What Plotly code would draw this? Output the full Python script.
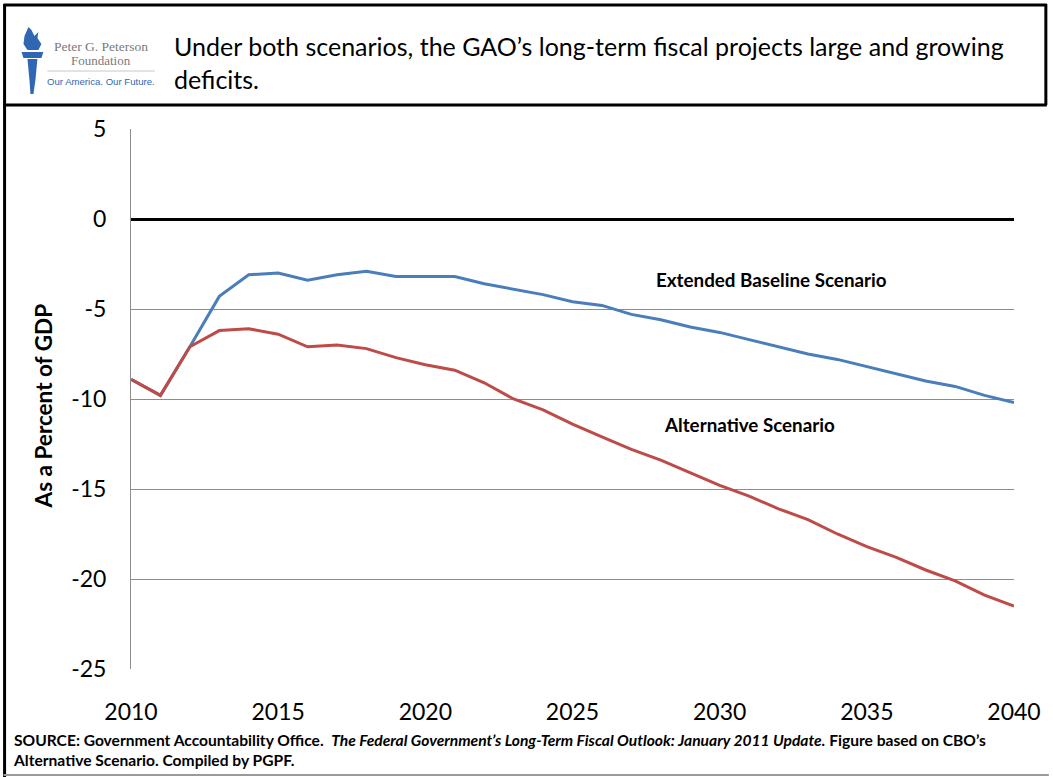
import plotly.graph_objects as go

# ---- data ----
years = list(range(2010, 2041))
extended_baseline = [-8.9, -9.8, -7.1, -4.3, -3.1, -3.0, -3.4, -3.1, -2.9, -3.2,
                     -3.2, -3.2, -3.6, -3.9, -4.2, -4.6, -4.8, -5.3, -5.6, -6.0,
                     -6.3, -6.7, -7.1, -7.5, -7.8, -8.2, -8.6, -9.0, -9.3, -9.8, -10.2]
alternative = [-8.9, -9.8, -7.1, -6.2, -6.1, -6.4, -7.1, -7.0, -7.2, -7.7,
               -8.1, -8.4, -9.1, -10.0, -10.6, -11.4, -12.1, -12.8, -13.4, -14.1,
               -14.8, -15.4, -16.1, -16.7, -17.5, -18.2, -18.8, -19.5, -20.1, -20.9, -21.5]
x_ticks = [2010, 2015, 2020, 2025, 2030, 2035, 2040]
y_ticks = [5, 0, -5, -10, -15, -20, -25]

W, H = 1053, 777
L, R, T, B = 131, 1018, 129, 669


def px(x):
    return (x - L) / (R - L)


def py(y):
    return (B - y) / (B - T)


FONT = "Lato"
BLUE = "#4A7EBB"
RED = "#BE4B48"

fig = go.Figure()
fig.add_trace(go.Scatter(x=years, y=extended_baseline, mode="lines",
                         line=dict(color=BLUE, width=3), name="Extended Baseline Scenario",
                         hoverinfo="x+y"))
fig.add_trace(go.Scatter(x=years, y=alternative, mode="lines",
                         line=dict(color=RED, width=3), name="Alternative Scenario",
                         hoverinfo="x+y"))

fig.update_layout(
    width=W, height=H,
    margin=dict(l=L, r=W - R, t=T, b=H - B),
    paper_bgcolor="white", plot_bgcolor="white",
    showlegend=False,
    font=dict(family=FONT, color="black"),
    xaxis=dict(range=[2010, 2040], tickvals=x_ticks, ticktext=[str(v) for v in x_ticks],
               showgrid=False, zeroline=False, showline=False, ticks="",
               tickfont=dict(size=23, family=FONT), ticklabelstandoff=27),
    yaxis=dict(range=[-25, 5], tickvals=y_ticks, ticktext=[str(v) for v in y_ticks],
               showgrid=True, gridcolor="#8C8C8C", gridwidth=1,
               zeroline=True, zerolinecolor="black", zerolinewidth=3,
               showline=True, linecolor="#8C8C8C", linewidth=1, ticks="",
               tickfont=dict(size=23, family=FONT), ticklabelstandoff=19),
)

shapes = []
# outer frame and header box
shapes.append(dict(type="line", xref="paper", yref="paper", x0=px(4), x1=px(4), y0=py(4), y1=py(777),
                   line=dict(color="black", width=3)))
shapes.append(dict(type="line", xref="paper", yref="paper", x0=px(3), x1=px(1051), y0=py(5), y1=py(5),
                   line=dict(color="black", width=3)))
shapes.append(dict(type="line", xref="paper", yref="paper", x0=px(1050), x1=px(1050), y0=py(4), y1=py(105),
                   line=dict(color="black", width=3)))
shapes.append(dict(type="line", xref="paper", yref="paper", x0=px(3), x1=px(1051), y0=py(105), y1=py(105),
                   line=dict(color="black", width=3)))
shapes.append(dict(type="line", xref="paper", yref="paper", x0=px(3), x1=px(1053), y0=py(775), y1=py(775),
                   line=dict(color="#9A9A9A", width=2)))


def pathstr(points):
    s = "M " + " L ".join(f"{px(a):.5f},{py(b):.5f}" for a, b in points) + " Z"
    return s


LOGO = "#2F67B2"
# torch flame
shapes.append(dict(type="path", xref="paper", yref="paper",
                   path=pathstr([(28, 27), (24, 36), (23, 44), (27, 50), (38, 50), (41, 44), (37, 38),
                                 (38, 32), (34, 36), (31, 30)]),
                   fillcolor=LOGO, line=dict(width=0)))
# torch cup
shapes.append(dict(type="path", xref="paper", yref="paper",
                   path=pathstr([(21, 52), (43, 52), (41, 58), (23, 58)]),
                   fillcolor=LOGO, line=dict(width=0)))
# torch handle
shapes.append(dict(type="path", xref="paper", yref="paper",
                   path=pathstr([(27, 59), (37, 59), (35, 80), (33, 94), (30, 94), (29, 80)]),
                   fillcolor=LOGO, line=dict(width=0)))
# logo separator line
shapes.append(dict(type="line", xref="paper", yref="paper", x0=px(47), x1=px(155), y0=py(71), y1=py(71),
                   line=dict(color="#C8C8C8", width=1)))
fig.update_layout(shapes=shapes)


def note(text, x, y, size, family=FONT, color="black", xanchor="center", yanchor="middle", **kw):
    return dict(text=text, x=px(x), y=py(y), xref="paper", yref="paper",
                xanchor=xanchor, yanchor=yanchor, showarrow=False,
                font=dict(family=family, size=size, color=color), **kw)


ann = []
ann.append(note("Peter G. Peterson", 101, 46, 13.5, family="Liberation Serif", color="#7A7A7A"))
ann.append(note("Foundation", 101, 61, 13, family="Liberation Serif", color="#7A7A7A"))
ann.append(note("Our America. Our Future.", 101, 81, 9.6, family="Liberation Sans", color=LOGO))
ann.append(note("Under both scenarios, the GAO’s long-term fiscal projects large and growing<br>deficits.",
                172, 29, 25, xanchor="left", yanchor="top", align="left"))
ann.append(note("<b>As a Percent of GDP</b>", 43, 406, 22.5, textangle=-90))
ann.append(note("<b>Extended Baseline Scenario</b>", 774, 279, 18.8))
ann.append(note("<b>Alternative Scenario</b>", 752, 424, 18.8))
ann.append(note("<b>SOURCE: Government Accountability Office.  <i>The Federal Government’s Long-Term Fiscal Outlook: January 2011 Update.</i> Figure based on CBO’s</b><br><b>Alternative Scenario. Compiled by PGPF.</b>",
                10, 729, 15.6, xanchor="left", yanchor="top", align="left"))
fig.update_layout(annotations=ann)

fig.write_html("out.html")
